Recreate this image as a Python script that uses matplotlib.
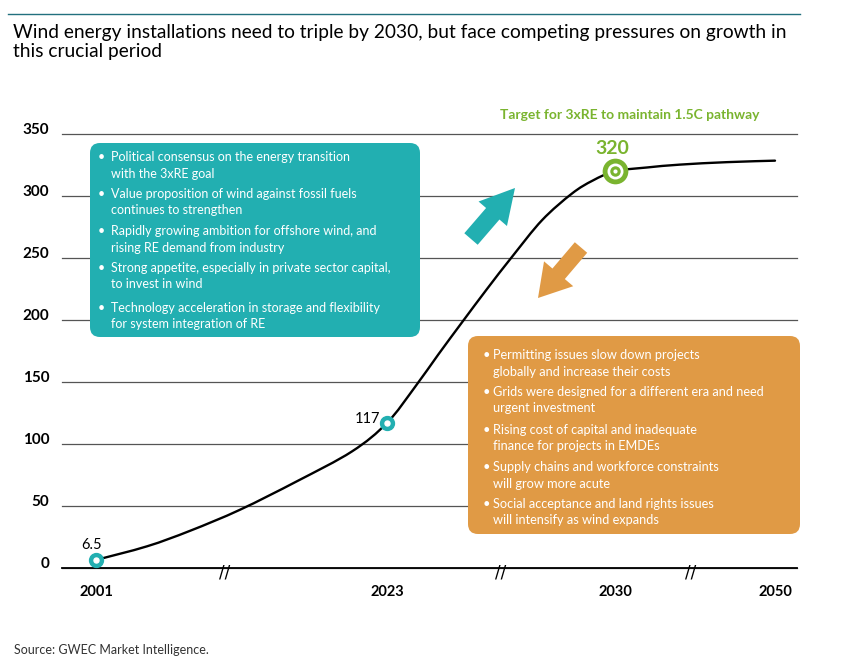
import numpy as np
import matplotlib
matplotlib.use('Agg')
import matplotlib.pyplot as plt
import matplotlib.transforms as mtransforms
from matplotlib.patches import FancyBboxPatch, FancyArrowPatch, PathPatch
from matplotlib.path import Path

plt.rcParams['font.family'] = ['Lato', 'DejaVu Sans']

# 数据
years = [2001, 2004.86, 2008.11, 2011.89, 2016.2, 2020.35, 2023, 2023.86, 2024.57, 2025.3,
         2026.07, 2026.84, 2027.76, 2028.68, 2029.32, 2030, 2034, 2038.1, 2044, 2050]
capacity = [6.5, 17.5, 30, 47, 70, 94, 117, 146, 172, 198,
            225, 251, 280.5, 302, 312.5, 320, 323, 325.3, 327.3, 328.5]

mark_years = [2001, 2023, 2030]
mark_values = [6.5, 117, 320]
mark_labels = ['6.5', '117', '320']

tick_years = [2001, 2023, 2030, 2050]
y_ticks = [0, 50, 100, 150, 200, 250, 300, 350]
break_years = [2010.75, 2026.5, 2039.4]

title = ('Wind energy installations need to triple by 2030, but face competing pressures on growth in\n'
         'this crucial period')
target_text = 'Target for 3xRE to maintain 1.5C pathway'
source_text = 'Source: GWEC Market Intelligence.'

drivers = [
    'Political consensus on the energy transition\nwith the 3xRE goal',
    'Value proposition of wind against fossil fuels\ncontinues to strengthen',
    'Rapidly growing ambition for offshore wind, and\nrising RE demand from industry',
    'Strong appetite, especially in private sector capital,\nto invest in wind',
    'Technology acceleration in storage and flexibility\nfor system integration of RE',
]
pressures = [
    'Permitting issues slow down projects\nglobally and increase their costs',
    'Grids were designed for a different era and need\nurgent investment',
    'Rising cost of capital and inadequate\nfinance for projects in EMDEs',
    'Supply chains and workforce constraints\nwill grow more acute',
    'Social acceptance and land rights issues\nwill intensify as wind expands',
]

TEAL = '#22afb1'
ORANGE = '#e09a45'
GREEN = '#7ab42f'

# 断轴：各年份在横轴上的位置（分段线性）
knot_years = [1990, 2001, 2023, 2030, 2050, 2070]
knot_pos = [-49.5, 96, 387, 615, 775, 935]


def fwd(x):
    return np.interp(x, knot_years, knot_pos)


def inv(p):
    return np.interp(p, knot_pos, knot_years)


def smooth_path(pts):
    # 通过各点的 Catmull-Rom 曲线，转成三次贝塞尔
    p = np.vstack([pts[0], pts, pts[-1]])
    verts = [pts[0]]
    codes = [Path.MOVETO]
    for i in range(1, len(p) - 2):
        c1 = p[i] + (p[i + 1] - p[i - 1]) / 6
        c2 = p[i + 1] - (p[i + 2] - p[i]) / 6
        verts += [c1, c2, p[i + 1]]
        codes += [Path.CURVE4] * 3
    return Path(verts, codes)


W, H = 856, 670
fig = plt.figure(figsize=(W / 100, H / 100), dpi=100)
ax = fig.add_axes([62 / W, (H - 568) / H, 735 / W, 434 / H])
ax.set_xscale('function', functions=(fwd, inv))
ax.set_xlim(inv(62), inv(797))
ax.set_ylim(0, 350)

for s in ax.spines.values():
    s.set_visible(False)
ax.set_yticks(y_ticks)
ax.set_yticklabels([str(v) for v in y_ticks], fontsize=11, fontweight='bold')
ax.set_xticks(tick_years)
ax.set_xticklabels([str(v) for v in tick_years], fontsize=10.5, fontweight='bold')
ax.xaxis.set_minor_locator(matplotlib.ticker.NullLocator())
ax.tick_params(axis='y', length=0, pad=9)
ax.tick_params(axis='x', length=0, pad=12)
shift = mtransforms.ScaledTranslation(0, 0.06, fig.dpi_scale_trans)
for lab in ax.get_yticklabels():
    lab.set_transform(lab.get_transform() + shift)

ax.yaxis.grid(True, color='#555555', lw=0.9)
ax.set_axisbelow(True)
for gl in ax.get_ygridlines():
    gl.set_clip_on(False)
ax.axhline(0, color='black', lw=1.3, zorder=2, clip_on=False)

for b in break_years:
    ax.annotate('//', (b, 0), xytext=(0, -3), textcoords='offset points', ha='center', va='center',
                fontsize=12, family='DejaVu Sans', annotation_clip=False)

# 曲线：数据点先换到像素坐标，再画平滑路径
disp = ax.transData.transform(np.column_stack([years, capacity]))
ax.add_patch(PathPatch(smooth_path(disp), transform=mtransforms.IdentityTransform(),
                       fc='none', ec='black', lw=1.7, capstyle='round', zorder=3, clip_on=False))

# 标记点
ax.plot(mark_years[:2], mark_values[:2], 'o', ms=10, color=TEAL, zorder=4, clip_on=False)
ax.plot(mark_years[:2], mark_values[:2], 'o', ms=3.6, color='white', zorder=5, clip_on=False)
for ms, c in [(18.5, GREEN), (11.5, 'white'), (7.5, GREEN), (3, 'white')]:
    ax.plot(mark_years[2], mark_values[2], 'o', ms=ms, color=c, mew=0, zorder=4, clip_on=False)

ax.annotate(mark_labels[0], (mark_years[0], mark_values[0]), xytext=(-3, 11), textcoords='offset points',
            ha='center', va='center', fontsize=10.5)
ax.annotate(mark_labels[1], (mark_years[1], mark_values[1]), xytext=(-14, 3), textcoords='offset points',
            ha='center', va='center', fontsize=10.5)
ax.annotate(mark_labels[2], (mark_years[2], mark_values[2]), xytext=(-2, 16.5), textcoords='offset points',
            ha='center', va='center', fontsize=14, fontweight='bold', color=GREEN)

# 装饰层（像素坐标）
deco = fig.add_axes([0, 0, 1, 1])
deco.set_xlim(0, W)
deco.set_ylim(H, 0)
deco.axis('off')
deco.set_zorder(5)

deco.plot([8, 800], [14, 14], color='#22707e', lw=1)
deco.text(13, 24, title, va='top', ha='left', fontsize=13.8, linespacing=1.15)
deco.text(630, 115, target_text, ha='center', va='center', fontsize=10, fontweight='bold', color=GREEN)
deco.text(14, 650, source_text, ha='left', va='center', fontsize=9, color='#333333')

deco.add_patch(FancyBboxPatch((90, 143), 330, 194, boxstyle='round,pad=0,rounding_size=10',
                              fc=TEAL, ec='none'))
deco.add_patch(FancyBboxPatch((468, 336), 332, 198, boxstyle='round,pad=0,rounding_size=10',
                              fc=ORANGE, ec='none'))

for item, y0 in zip(drivers, [157, 194, 231, 268, 308]):
    deco.text(101, y0, '\u2022', ha='center', va='center', color='white', fontsize=9)
    for k, line in enumerate(item.split('\n')):
        deco.text(111, y0 + k * 16.5, line, ha='left', va='center', color='white', fontsize=9)

for item, y0 in zip(pressures, [355, 392, 430, 467, 504]):
    deco.text(486, y0, '\u2022', ha='center', va='center', color='white', fontsize=9.2)
    for k, line in enumerate(item.split('\n')):
        deco.text(493, y0 + k * 16.5, line, ha='left', va='center', color='white', fontsize=9.2)

# 箭头
deco.add_patch(FancyArrowPatch((471, 239), (515, 188),
                               arrowstyle='simple,head_length=24.5,head_width=27,tail_width=12.7',
                               mutation_scale=1, shrinkA=0, shrinkB=0, color=TEAL, lw=0))
deco.add_patch(FancyArrowPatch((581, 247.5), (538, 298),
                               arrowstyle='simple,head_length=22.9,head_width=27.6,tail_width=11.7',
                               mutation_scale=1, shrinkA=0, shrinkB=0, color=ORANGE, lw=0))

fig.savefig('out.png', dpi=100)
